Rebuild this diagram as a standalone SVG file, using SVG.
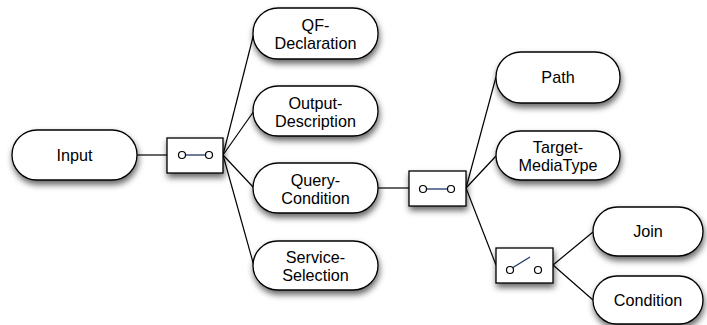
<svg xmlns="http://www.w3.org/2000/svg" width="707" height="325" viewBox="0 0 707 325">
<defs>
<filter id="sh" x="-20%" y="-30%" width="140%" height="170%">
<feDropShadow dx="1" dy="4" stdDeviation="3" flood-color="#000" flood-opacity="0.6"/>
</filter>
</defs>
<style>
.pill{fill:#fff;stroke:#000;stroke-width:1.3;filter:url(#sh)}
.box{fill:#fff;stroke:#000;stroke-width:1.3;filter:url(#sh)}
.c{fill:#fff;stroke:#000;stroke-width:1.2}
.sw{stroke:#1c3766;stroke-width:1.3;fill:none}
.ln{stroke:#000;stroke-width:1.2;fill:none}
text{font-family:"Liberation Sans",Arial,sans-serif;font-size:16.2px;fill:#000;text-anchor:middle}
</style>
<g id="connectors">
<line class="ln" x1="137" y1="155" x2="167" y2="155"/>
<line class="ln" x1="223" y1="155" x2="254" y2="33"/>
<line class="ln" x1="223" y1="155" x2="254" y2="111"/>
<line class="ln" x1="223" y1="155" x2="254" y2="188"/>
<line class="ln" x1="223" y1="155" x2="254" y2="266"/>
<line class="ln" x1="378" y1="188" x2="409" y2="188"/>
<line class="ln" x1="466" y1="188" x2="496" y2="77"/>
<line class="ln" x1="466" y1="188" x2="496" y2="156"/>
<line class="ln" x1="466" y1="188" x2="496" y2="265"/>
<line class="ln" x1="553" y1="265" x2="593" y2="232"/>
<line class="ln" x1="553" y1="265" x2="593" y2="300"/>
</g>
<g id="input">
<rect class="pill" x="12" y="130" width="125" height="50" rx="25"/>
<text x="74.5" y="161">Input</text>
</g>
<g id="switch1">
<rect class="box" x="167" y="138" width="56" height="35"/>
<line class="sw" x1="185.5" y1="155" x2="205.5" y2="155"/>
<circle class="c" cx="182" cy="155" r="3.5"/>
<circle class="c" cx="209" cy="155" r="3.5"/>
</g>
<g id="qf-declaration">
<rect class="pill" x="253" y="8" width="125" height="51" rx="25"/>
<text x="315.5" y="31">QF-</text>
<text x="315.5" y="49">Declaration</text>
</g>
<g id="output-description">
<rect class="pill" x="253" y="86" width="125" height="50" rx="25"/>
<text x="315.5" y="108.5">Output-</text>
<text x="315.5" y="126.5">Description</text>
</g>
<g id="query-condition">
<rect class="pill" x="253" y="163" width="125" height="50" rx="25"/>
<text x="315.5" y="185.5">Query-</text>
<text x="315.5" y="203.5">Condition</text>
</g>
<g id="service-selection">
<rect class="pill" x="253" y="241" width="125" height="49" rx="24.5"/>
<text x="315.5" y="263">Service-</text>
<text x="315.5" y="281">Selection</text>
</g>
<g id="switch2">
<rect class="box" x="409" y="171" width="57" height="35"/>
<line class="sw" x1="426.5" y1="189" x2="447.5" y2="189"/>
<circle class="c" cx="423" cy="189" r="3.5"/>
<circle class="c" cx="451" cy="189" r="3.5"/>
</g>
<g id="path">
<rect class="pill" x="496" y="52" width="124" height="51" rx="25"/>
<text x="558" y="83">Path</text>
</g>
<g id="target-mediatype">
<rect class="pill" x="496" y="131" width="124" height="49" rx="24.5"/>
<text x="558" y="152.5">Target-</text>
<text x="558" y="170.5">MediaType</text>
</g>
<g id="switch3">
<rect class="box" x="496" y="248" width="57" height="35"/>
<line class="sw" x1="513" y1="267.5" x2="530" y2="257"/>
<circle class="c" cx="510" cy="270" r="3.5"/>
<circle class="c" cx="538" cy="270" r="3.5"/>
</g>
<g id="join">
<rect class="pill" x="593" y="207" width="110" height="49" rx="24.5"/>
<text x="648" y="236.5">Join</text>
</g>
<g id="condition">
<rect class="pill" x="593" y="276" width="110" height="48" rx="24"/>
<text x="648" y="305.5">Condition</text>
</g>
</svg>
